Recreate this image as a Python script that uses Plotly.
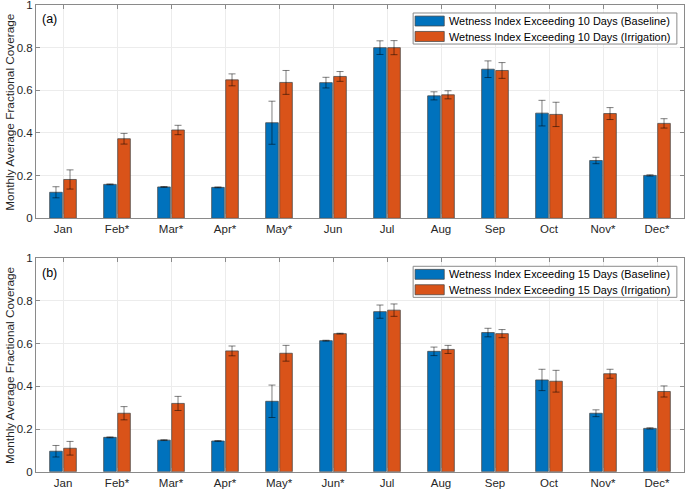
import plotly.graph_objects as go

months = ["Jan", "Feb", "Mar", "Apr", "May", "Jun", "Jul", "Aug", "Sep", "Oct", "Nov", "Dec"]
labels_a = ["Jan", "Feb*", "Mar*", "Apr*", "May*", "Jun", "Jul", "Aug", "Sep", "Oct", "Nov*", "Dec*"]
labels_b = ["Jan", "Feb*", "Mar*", "Apr*", "May*", "Jun*", "Jul", "Aug", "Sep", "Oct", "Nov*", "Dec*"]

names_a = ["Wetness Index Exceeding 10 Days (Baseline)", "Wetness Index Exceeding 10 Days (Irrigation)"]
names_b = ["Wetness Index Exceeding 15 Days (Baseline)", "Wetness Index Exceeding 15 Days (Irrigation)"]

base10 = [0.122, 0.159, 0.147, 0.145, 0.448, 0.636, 0.800, 0.574, 0.699, 0.493, 0.271, 0.201]
base10_err = [0.026, 0.002, 0.002, 0.002, 0.101, 0.025, 0.032, 0.019, 0.039, 0.060, 0.015, 0.003]
irr10 = [0.182, 0.373, 0.414, 0.649, 0.637, 0.665, 0.800, 0.579, 0.693, 0.487, 0.491, 0.445]
irr10_err = [0.045, 0.025, 0.022, 0.028, 0.056, 0.023, 0.033, 0.019, 0.037, 0.057, 0.028, 0.022]

base15 = [0.096, 0.161, 0.148, 0.144, 0.330, 0.614, 0.750, 0.564, 0.652, 0.430, 0.274, 0.203]
base15_err = [0.027, 0.002, 0.002, 0.002, 0.076, 0.002, 0.031, 0.020, 0.020, 0.050, 0.016, 0.003]
irr15 = [0.110, 0.274, 0.320, 0.566, 0.555, 0.647, 0.757, 0.573, 0.647, 0.424, 0.459, 0.376]
irr15_err = [0.032, 0.031, 0.033, 0.023, 0.037, 0.002, 0.029, 0.019, 0.019, 0.051, 0.021, 0.026]

x = list(range(1, len(months) + 1))

BLUE = "#0072BD"
ORANGE = "#D95319"
EDGE = "rgba(70,70,70,0.75)"
ERR = "rgba(0,0,0,0.5)"
TXT = "#262626"
FRAME = "#8a8a8a"

fig = go.Figure()

def add_bar(vals, errs, name, color, xa, ya, grp):
    fig.add_trace(go.Bar(
        x=x, y=vals, name=name, xaxis=xa, yaxis=ya, showlegend=False,
        marker=dict(color=color, line=dict(color=EDGE, width=1)),
        error_y=dict(type="data", array=errs, visible=True, color=ERR, thickness=1, width=3.5),
        offsetgroup=grp,
    ))

add_bar(base10, base10_err, names_a[0], BLUE, "x", "y", "base")
add_bar(irr10, irr10_err, names_a[1], ORANGE, "x", "y", "irr")
add_bar(base15, base15_err, names_b[0], BLUE, "x2", "y2", "base")
add_bar(irr15, irr15_err, names_b[1], ORANGE, "x2", "y2", "irr")

axis_common = dict(
    showline=True, linecolor=FRAME, linewidth=1, mirror="ticks",
    ticks="inside", ticklen=4, tickcolor=FRAME, automargin=False,
    ticklabeloverflow="allow",
    showgrid=True, gridcolor="#ececec", gridwidth=1, zeroline=False,
    tickfont=dict(family="Liberation Sans, Arial", size=11.5, color=TXT),
)

ytop = [0.5545, 0.9898]
ybot = [0.0373, 0.4729]

# Legend drawn inside each panel (axis-domain coordinates)
shapes = []
annotations = []
LEG_BOX = dict(x0=0.582, x1=0.989, y0=0.817, y1=0.9625)
PATCH_X = (0.585, 0.630)
ROWS = [(0.9016, 0.948, 0.925), (0.829, 0.876, 0.852)]
for (xa, ya, names, tag, dom) in [("x", "y", names_a, "(a)", ytop), ("x2", "y2", names_b, "(b)", ybot)]:
    xr, yr = f"{xa} domain", f"{ya} domain"
    shapes.append(dict(type="rect", xref=xr, yref=yr, fillcolor="white",
                       line=dict(color=FRAME, width=1), **LEG_BOX))
    for name, color, (py0, py1, pyc) in zip(names, [BLUE, ORANGE], ROWS):
        shapes.append(dict(type="rect", xref=xr, yref=yr, x0=PATCH_X[0], x1=PATCH_X[1], y0=py0, y1=py1,
                           fillcolor=color, line=dict(color=EDGE, width=1)))
        annotations.append(dict(text=name, xref=xr, yref=yr, x=PATCH_X[1] + 0.004, y=pyc,
                                xanchor="left", yanchor="middle", showarrow=False,
                                font=dict(size=10.9, color="#000000")))
    annotations.append(dict(text=tag, xref=xr, yref=yr, x=0.006, y=0.975, xanchor="left", yanchor="top",
                            showarrow=False, font=dict(size=12.5, color="#000000")))
    annotations.append(dict(text="Monthly Average Fractional Coverage", xref="paper", yref="paper",
                            x=-0.040, y=(dom[0] + dom[1]) / 2, xanchor="center", yanchor="middle",
                            textangle=-90, showarrow=False, font=dict(size=11.8, color=TXT)))

fig.update_layout(
    width=685, height=490, autosize=False,
    margin=dict(l=36, r=1, t=0, b=0, pad=0, autoexpand=False),
    paper_bgcolor="white", plot_bgcolor="white",
    barmode="group", bargap=0.48, bargroupgap=0.1,
    font=dict(family="Liberation Sans, Arial", color=TXT),
    showlegend=False,
    xaxis=dict(domain=[0, 1], anchor="y", range=[0.5, 12.5], tickvals=x, ticktext=labels_a, **axis_common),
    yaxis=dict(domain=ytop, anchor="x", range=[0, 1], tickvals=[0, 0.2, 0.4, 0.6, 0.8, 1],
               ticktext=["0", "0.2", "0.4", "0.6", "0.8", "1"], **axis_common),
    xaxis2=dict(domain=[0, 1], anchor="y2", range=[0.5, 12.5], tickvals=x, ticktext=labels_b, **axis_common),
    yaxis2=dict(domain=ybot, anchor="x2", range=[0, 1], tickvals=[0, 0.2, 0.4, 0.6, 0.8, 1],
                ticktext=["0", "0.2", "0.4", "0.6", "0.8", "1"], **axis_common),
    shapes=shapes,
    annotations=annotations,
)

fig.write_html("out.html", config={"displayModeBar": False},
               post_script="document.body.style.margin='0';document.body.style.overflow='hidden';")
